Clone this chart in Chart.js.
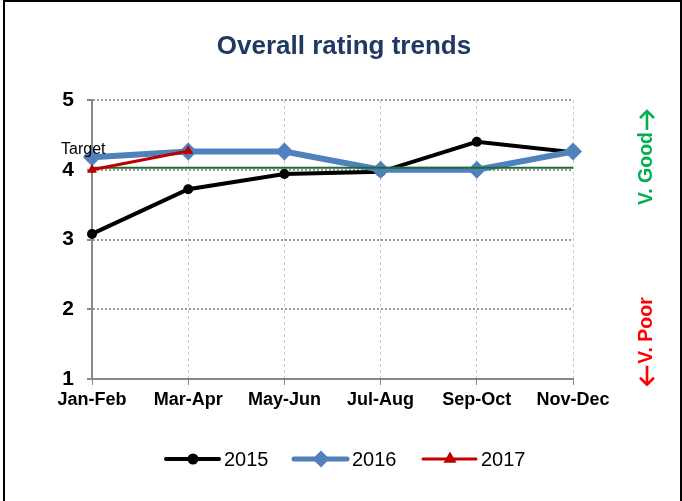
<!DOCTYPE html>
<html lang="en">
<head>
    <meta charset="UTF-8">
    <title>Overall rating trends</title>
    <script src="https://cdn.jsdelivr.net/npm/chart.js"></script>
    <style>
body {
    margin: 0;
    background: #fff;
}
.chart-box {
    width: 682px;
    height: 501px;
    position: relative;
}
    </style>
</head>
<body>
    <div class="chart-box">
        <canvas id="ratingChart"></canvas>
    </div>
    <script>
        // Dados
        const periodos = ['Jan-Feb', 'Mar-Apr', 'May-Jun', 'Jul-Aug', 'Sep-Oct', 'Nov-Dec'];
        const notas2015 = [3.08, 3.72, 3.94, 3.97, 4.40, 4.25];
        const notas2016 = [4.18, 4.26, 4.26, 4.00, 4.00, 4.26];
        const notas2017 = [4.00, 4.27, null, null, null, null];
        const meta = [4.03, 4.03, 4.03, 4.03, 4.03, 4.03];
        const yTicks = [1, 2, 3, 4, 5];

        const FONT = 'Arial, "Liberation Sans", sans-serif';

        const legendItems = [
            { label: '2015', color: '#000000', width: 4, style: 'circle', radius: 3.5, x: 166 },
            { label: '2016', color: '#4f81bd', width: 5, style: 'rectRot', radius: 5, x: 294 },
            { label: '2017', color: '#c00000', width: 3, style: 'triangle', radius: 4.5, x: 423 }
        ];

        // texto vertical com seta desenhada à mão
        function textoVertical(ctx, cx, cy, texto, setaAntes, cor) {
            const setaW = 19, gap = 2;
            ctx.save();
            ctx.translate(cx, cy);
            ctx.rotate(-Math.PI / 2);
            ctx.fillStyle = cor;
            ctx.strokeStyle = cor;
            ctx.lineWidth = 2.6;
            ctx.lineCap = 'butt';
            ctx.textBaseline = 'middle';
            ctx.textAlign = 'left';
            ctx.font = 'bold 19.5px ' + FONT;
            const wT = ctx.measureText(texto).width;
            let x = -(wT + setaW + gap) / 2;
            const ay = 0;
            function seta(x0, dir) {
                const x1 = x0 + setaW;
                const tip = dir > 0 ? x1 : x0;
                ctx.beginPath();
                ctx.moveTo(x0, ay);
                ctx.lineTo(x1, ay);
                ctx.stroke();
                ctx.beginPath();
                ctx.moveTo(tip - dir * 7, ay - 7);
                ctx.lineTo(tip, ay);
                ctx.lineTo(tip - dir * 7, ay + 7);
                ctx.stroke();
            }
            if (setaAntes) {
                seta(x, -1); x += setaW + gap;
                ctx.fillText(texto, x, 0);
            } else {
                ctx.fillText(texto, x, 0); x += wT + gap;
                seta(x, 1);
            }
            ctx.restore();
        }

        // Título, legenda, textos laterais e moldura
        const extras = {
            id: 'extras',
            afterDatasetsDraw(chart) {
                const ctx = chart.ctx;
                const y4 = chart.scales.y.getPixelForValue(meta[0]);
                ctx.save();
                ctx.fillStyle = '#000';
                ctx.font = '16px ' + FONT;
                ctx.textAlign = 'left';
                ctx.textBaseline = 'alphabetic';
                ctx.fillText('Target', 61, y4 - 14);
                ctx.restore();
            },
            afterDraw(chart) {
                const ctx = chart.ctx;
                ctx.save();
                // título
                ctx.fillStyle = '#1f3864';
                ctx.font = 'bold 26px ' + FONT;
                ctx.textAlign = 'center';
                ctx.textBaseline = 'middle';
                ctx.fillText('Overall rating trends', 344, 47);

                // legenda
                legendItems.forEach(it => {
                    const ly = 459;
                    ctx.strokeStyle = it.color;
                    ctx.lineWidth = it.width;
                    ctx.lineCap = 'round';
                    ctx.beginPath();
                    ctx.moveTo(it.x, ly);
                    ctx.lineTo(it.x + 53, ly);
                    ctx.stroke();
                    ctx.fillStyle = it.color;
                    Chart.helpers.drawPoint(ctx, {
                        pointStyle: it.style, radius: it.radius, rotation: 0, borderWidth: 1
                    }, it.x + 27, ly);
                    ctx.fill();
                    ctx.fillStyle = '#000';
                    ctx.font = '20px ' + FONT;
                    ctx.textAlign = 'left';
                    ctx.textBaseline = 'middle';
                    ctx.fillText(it.label, it.x + 58, ly + 1);
                });

                // textos verticais
                textoVertical(ctx, 647, 158, 'V. Good', false, '#00b050');
                textoVertical(ctx, 647, 341, 'V. Poor', true, '#ff0000');

                // moldura
                ctx.strokeStyle = '#000';
                ctx.lineWidth = 2;
                ctx.strokeRect(4, 1, 677, 520);
                ctx.restore();
            }
        };

        const ctx = document.getElementById('ratingChart').getContext('2d');
        new Chart(ctx, {
            type: 'line',
            data: {
                labels: periodos,
                datasets: [
                    {
                        label: '2015', data: notas2015, order: 3,
                        borderColor: '#000', backgroundColor: '#000', borderWidth: 4,
                        pointStyle: 'circle', pointRadius: 4, pointBorderWidth: 2
                    },
                    {
                        label: '2016', data: notas2016, order: 2,
                        borderColor: '#4f81bd', backgroundColor: '#4f81bd', borderWidth: 6,
                        pointStyle: 'rectRot', pointRadius: 9, pointBorderWidth: 0
                    },
                    {
                        label: '2017', data: notas2017, order: 0,
                        borderColor: '#c00000', backgroundColor: '#c00000', borderWidth: 3,
                        pointStyle: 'triangle', pointRadius: 5, pointBorderWidth: 1
                    },
                    {
                        label: 'Target', data: meta, order: 1,
                        borderColor: '#1e6b34', borderWidth: 2, pointRadius: 0
                    }
                ]
            },
            options: {
                responsive: true,
                maintainAspectRatio: false,
                animation: false,
                layout: { padding: { top: 100, left: 0, right: 109, bottom: 82 } },
                plugins: {
                    legend: { display: false },
                    tooltip: { enabled: false },
                    title: { display: false }
                },
                scales: {
                    x: {
                        offset: false,
                        afterFit: s => { s.height = 40; },
                        grid: {
                            color: '#c8c8c8', lineWidth: 1, tickLength: 6,
                            tickColor: '#888', tickBorderDash: []
                        },
                        border: { color: '#888', width: 2, dash: [3, 3] },
                        ticks: {
                            color: '#000', padding: 4, maxRotation: 0, autoSkip: false,
                            font: { family: FONT, size: 18, weight: 'bold' }
                        }
                    },
                    y: {
                        min: 1, max: 5,
                        afterFit: s => { s.width = 92; },
                        afterBuildTicks: s => { s.ticks = yTicks.map(v => ({ value: v })); },
                        grid: {
                            color: '#999', lineWidth: 2, tickLength: 5,
                            tickColor: '#888', tickBorderDash: []
                        },
                        border: { color: '#888', width: 2, dash: [2, 2] },
                        ticks: {
                            color: '#000', padding: 13,
                            font: { family: FONT, size: 21, weight: 'bold' }
                        }
                    }
                }
            },
            plugins: [extras]
        });
    </script>
</body>
</html>
